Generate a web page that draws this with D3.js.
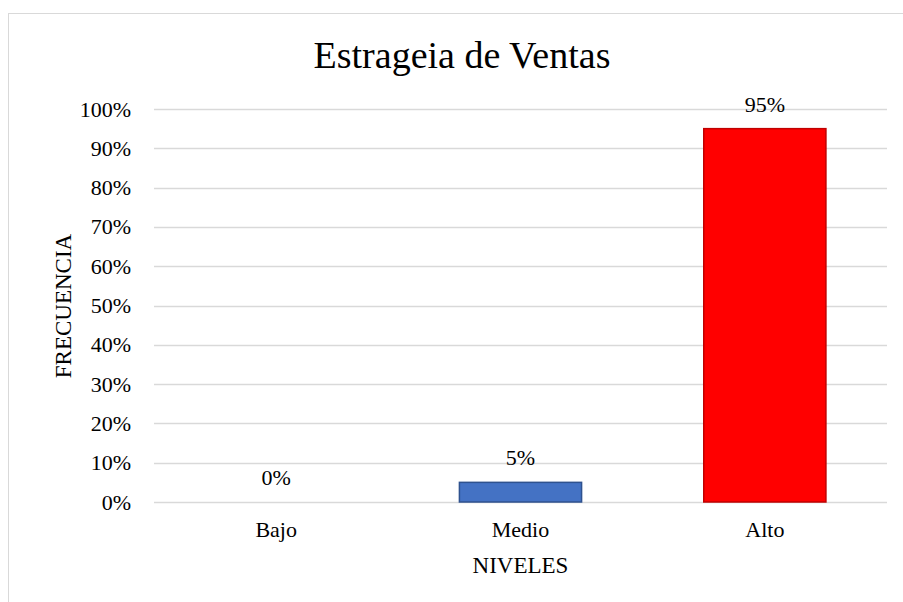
<!DOCTYPE html>
<html>
<head>
<meta charset="utf-8">
<script src="https://cdn.jsdelivr.net/npm/d3@7"></script>
<style>
  body { margin: 0; background: #fff; }
  text { font-family: "Liberation Serif", "Times New Roman", serif; fill: #000; }
</style>
</head>
<body>
<div id="chart"></div>
<script>
// Data
var categories = ["Bajo", "Medio", "Alto"];
var values = [0, 0.05, 0.95];
var valueLabels = ["0%", "5%", "95%"];
var fills = ["#4472C4", "#4472C4", "#FF0000"];
var strokes = ["#2F528F", "#2F528F", "#C00000"];
var yTicks = [0, 0.1, 0.2, 0.3, 0.4, 0.5, 0.6, 0.7, 0.8, 0.9, 1.0];

var svgWidth = 903;
var svgHeight = 602;

var margin = { top: 109, bottom: 100, right: 16, left: 154 };
var width = svgWidth - margin.left - margin.right;
var height = svgHeight - margin.top - margin.bottom;

var svg = d3.select("#chart")
  .append("svg")
  .attr("width", svgWidth)
  .attr("height", svgHeight);

// outer chart border
svg.append("rect")
  .attr("x", 8.5)
  .attr("y", 13.5)
  .attr("width", 910)
  .attr("height", 610)
  .attr("fill", "none")
  .attr("stroke", "#d9d9d9");

var chartGroup = svg.append("g")
  .attr("transform", `translate(${margin.left}, ${margin.top})`);

var xScale = d3.scaleBand()
  .domain(categories)
  .range([0, width])
  .paddingInner(0.5)
  .paddingOuter(0.25);

var yScale = d3.scaleLinear()
  .domain([0, 1])
  .range([height, 0]);

// gridlines
chartGroup.selectAll(".grid")
  .data(yTicks)
  .enter()
  .append("line")
  .attr("x1", 0)
  .attr("x2", width)
  .attr("y1", d => Math.round(yScale(d)) + 0.5)
  .attr("y2", d => Math.round(yScale(d)) + 0.5)
  .attr("stroke", "#d9d9d9")
  .attr("stroke-width", 1.5);

// y axis labels
var leftAxis = d3.axisLeft(yScale)
  .tickValues(yTicks)
  .tickFormat(d3.format(".0%"))
  .tickSize(0)
  .tickPadding(23);

var yAxisG = chartGroup.append("g").call(leftAxis);
yAxisG.select(".domain").remove();
yAxisG.selectAll("text")
  .style("font-family", "Liberation Serif, Times New Roman, serif")
  .style("font-size", "22px");

// x axis labels
var bottomAxis = d3.axisBottom(xScale).tickSize(0).tickPadding(19);
var xAxisG = chartGroup.append("g")
  .attr("transform", `translate(0, ${height})`)
  .call(bottomAxis);
xAxisG.select(".domain").remove();
xAxisG.selectAll("text")
  .style("font-family", "Liberation Serif, Times New Roman, serif")
  .style("font-size", "22px");

// bars
chartGroup.selectAll(".bar")
  .data(values)
  .enter()
  .append("rect")
  .attr("class", "bar")
  .attr("x", (d, i) => xScale(categories[i]))
  .attr("y", d => yScale(d))
  .attr("width", xScale.bandwidth())
  .attr("height", d => height - yScale(d))
  .attr("fill", (d, i) => fills[i])
  .attr("stroke", (d, i) => d > 0 ? strokes[i] : "none")
  .attr("stroke-width", 1.5);

// value labels
chartGroup.selectAll(".vlabel")
  .data(values)
  .enter()
  .append("text")
  .attr("x", (d, i) => xScale(categories[i]) + xScale.bandwidth() / 2)
  .attr("y", d => yScale(d) - 17)
  .attr("text-anchor", "middle")
  .style("font-size", "22px")
  .text((d, i) => valueLabels[i]);

// title
svg.append("text")
  .attr("x", 462)
  .attr("y", 68)
  .attr("text-anchor", "middle")
  .style("font-size", "38px")
  .text("Estrageia de Ventas");

// axis titles
svg.append("text")
  .attr("x", margin.left + width / 2)
  .attr("y", 573)
  .attr("text-anchor", "middle")
  .style("font-size", "23px")
  .text("NIVELES");

svg.append("text")
  .attr("transform", "rotate(-90)")
  .attr("x", -306)
  .attr("y", 71)
  .attr("text-anchor", "middle")
  .style("font-size", "23px")
  .text("FRECUENCIA");
</script>
</body>
</html>
